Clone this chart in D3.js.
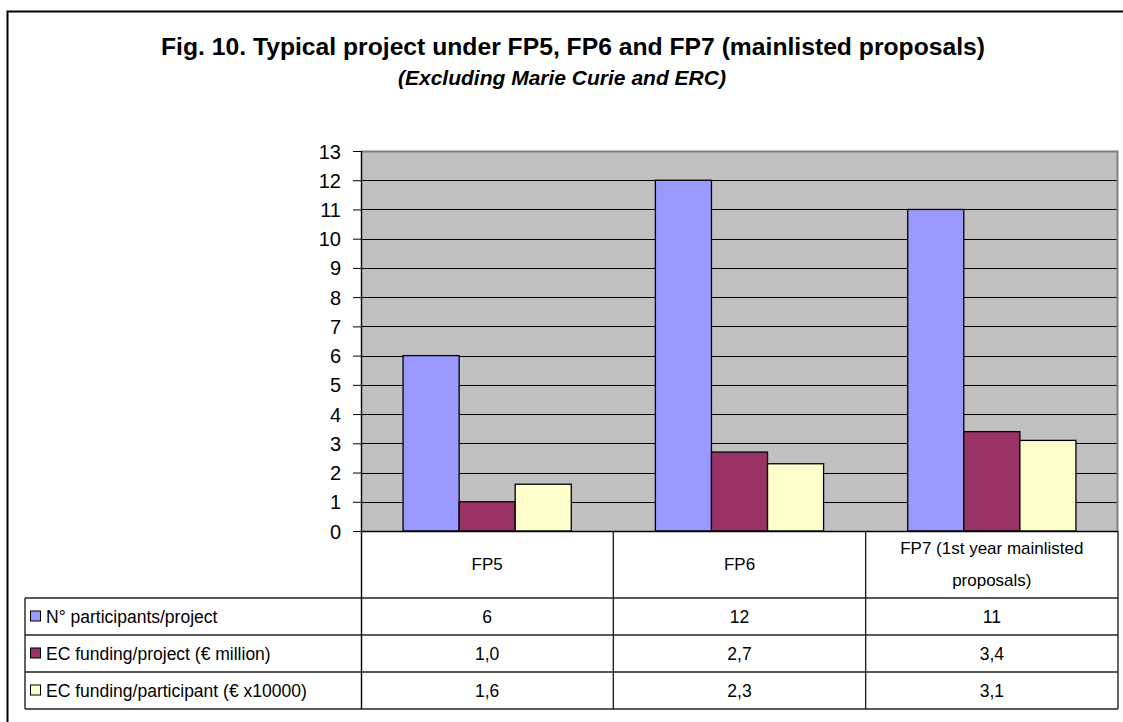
<!DOCTYPE html>
<html lang="en">
<head>
<meta charset="UTF-8">
<title>Fig. 10</title>
<script src="https://d3js.org/d3.v7.min.js"></script>
<style>
  body { margin: 0; background: #fff; }
  text { font-family: "Liberation Sans", Arial, sans-serif; fill: #000; }
</style>
</head>
<body>
<div id="chart"></div>
<script>
// data
var categories = ["FP5", "FP6", "FP7 (1st year mainlisted proposals)"];
var seriesNames = ["N° participants/project", "EC funding/project (€ million)", "EC funding/participant (€ x10000)"];
var participants = [6, 12, 11];
var fundingProject = [1.0, 2.7, 3.4];
var fundingParticipant = [1.6, 2.3, 3.1];
var yTicks = [0, 1, 2, 3, 4, 5, 6, 7, 8, 9, 10, 11, 12, 13];
var colors = ["#9999ff", "#993366", "#ffffcc"];

var series = [participants, fundingProject, fundingParticipant];

var W = 1123, H = 722;
var plot = {left: 361, right: 1118, top: 151, bottom: 531};
var table = {left: 25, headerBottom: 598, rowH: 37};

var svg = d3.select("#chart").append("svg")
  .attr("width", W).attr("height", H);

// outer frame (right and bottom edges fall outside the picture)
svg.append("rect")
  .attr("x", 7.5).attr("y", 11.5).attr("width", 1130).attr("height", 730)
  .attr("fill", "none").attr("stroke", "#000").attr("stroke-width", 2);

// titles
svg.append("text")
  .attr("x", 161).attr("y", 55)
  .style("font-size", "24.7px").style("font-weight", "bold")
  .text("Fig. 10. Typical project under FP5, FP6 and FP7 (mainlisted proposals)");
svg.append("text")
  .attr("x", 398).attr("y", 85)
  .style("font-size", "21px").style("font-weight", "bold").style("font-style", "italic")
  .text("(Excluding Marie Curie and ERC)");

// scales
var x = d3.scaleBand().domain(categories).range([plot.left, plot.right]);
var x1 = d3.scaleBand().domain(d3.range(series.length))
  .range([0, x.bandwidth()]).paddingOuter(0.75);
var y = d3.scaleLinear().domain([0, 13]).range([plot.bottom, plot.top]);

// plot area
svg.append("rect")
  .attr("x", plot.left).attr("y", plot.top)
  .attr("width", plot.right - plot.left).attr("height", plot.bottom - plot.top)
  .attr("fill", "#c0c0c0");

// gridlines
svg.append("g").selectAll("line")
  .data(yTicks.filter(function(d) { return d > 0 && d < 13; }))
  .enter().append("line")
    .attr("x1", plot.left).attr("x2", plot.right)
    .attr("y1", function(d) { return Math.round(y(d)) + 0.5; })
    .attr("y2", function(d) { return Math.round(y(d)) + 0.5; })
    .attr("stroke", "#000").attr("stroke-width", 1);

// plot border (top / right)
svg.append("path")
  .attr("d", "M" + plot.left + "," + (plot.top + 0.5) + "H" + (plot.right - 0.5) + "V" + plot.bottom)
  .attr("fill", "none").attr("stroke", "#808080").attr("stroke-width", 2);

// bars
series.forEach(function(vals, si) {
  svg.append("g").selectAll("rect")
    .data(vals)
    .enter().append("rect")
      .attr("x", function(d, i) { return x(categories[i]) + x1(si); })
      .attr("y", function(d) { return y(d); })
      .attr("width", x1.bandwidth())
      .attr("height", function(d) { return y(0) - y(d); })
      .attr("fill", colors[si])
      .attr("stroke", "#000").attr("stroke-width", 1.3);
});

// y axis
var yAxis = svg.append("g")
  .attr("transform", "translate(" + plot.left + ",0)")
  .call(d3.axisLeft(y).tickValues(yTicks).tickSize(8).tickPadding(12).tickFormat(d3.format("d")));
yAxis.select(".domain").remove();
yAxis.selectAll(".tick line").attr("stroke", "#000");
yAxis.selectAll(".tick text")
  .style("font-size", "20px").style("font-family", "'Liberation Sans', Arial, sans-serif")
  .attr("dy", "0.35em");

// data table
var nRows = series.length;
var tableBottom = table.headerBottom + nRows * table.rowH;
var lineColor = "#222";
var tg = svg.append("g");

// horizontal lines
tg.append("line")
  .attr("x1", plot.left).attr("x2", plot.right)
  .attr("y1", plot.bottom + 0.5).attr("y2", plot.bottom + 0.5)
  .attr("stroke", "#000").attr("stroke-width", 1.5);
d3.range(nRows + 1).forEach(function(r) {
  var yy = table.headerBottom + r * table.rowH;
  tg.append("line")
    .attr("x1", table.left).attr("x2", plot.right)
    .attr("y1", yy).attr("y2", yy)
    .attr("stroke", lineColor).attr("stroke-width", 1.4);
});
// vertical lines
tg.append("line")
  .attr("x1", table.left).attr("x2", table.left)
  .attr("y1", table.headerBottom).attr("y2", tableBottom)
  .attr("stroke", lineColor).attr("stroke-width", 1.4);
tg.append("line")
  .attr("x1", plot.left + 0.5).attr("x2", plot.left + 0.5)
  .attr("y1", plot.top).attr("y2", tableBottom)
  .attr("stroke", "#000").attr("stroke-width", 1.4);
categories.forEach(function(c) {
  var xx = x(c) + x.bandwidth();
  tg.append("line")
    .attr("x1", xx).attr("x2", xx)
    .attr("y1", plot.bottom).attr("y2", tableBottom)
    .attr("stroke", lineColor).attr("stroke-width", 1.4);
});

// header: category names, wrapped to column width
categories.forEach(function(c) {
  var t = tg.append("text")
    .attr("text-anchor", "middle")
    .style("font-size", "17px");
  var words = c.split(" "), lines = [], line = [];
  var probe = tg.append("text").style("font-size", "17px");
  words.forEach(function(w) {
    line.push(w);
    probe.text(line.join(" "));
    if (probe.node().getComputedTextLength() > x.bandwidth() - 20 && line.length > 1) {
      line.pop();
      lines.push(line.join(" "));
      line = [w];
    }
  });
  lines.push(line.join(" "));
  probe.remove();
  var cy = (plot.bottom + table.headerBottom) / 2;
  var lh = 32;
  lines.forEach(function(l, i) {
    t.append("tspan")
      .attr("x", x(c) + x.bandwidth() / 2)
      .attr("y", cy + (i - (lines.length - 1) / 2) * lh)
      .attr("dy", "0.35em")
      .text(l);
  });
});

// rows: legend key + label + values
var fmtInt = d3.format("d");
var fmtDec = d3.formatLocale({decimal: ",", thousands: ".", grouping: [3], currency: ["€", ""]}).format(".1f");
series.forEach(function(vals, si) {
  var cy = table.headerBottom + si * table.rowH + table.rowH / 2;
  tg.append("rect")
    .attr("x", 30.5).attr("y", cy - 5.5)
    .attr("width", 10).attr("height", 10)
    .attr("fill", colors[si]).attr("stroke", "#000").attr("stroke-width", 1);
  tg.append("text")
    .attr("x", 46).attr("y", cy).attr("dy", "0.35em")
    .style("font-size", "17.5px")
    .text(seriesNames[si]);
  tg.selectAll(null)
    .data(vals)
    .enter().append("text")
      .attr("x", function(d, i) { return x(categories[i]) + x.bandwidth() / 2; })
      .attr("y", cy).attr("dy", "0.35em")
      .attr("text-anchor", "middle")
      .style("font-size", "17.5px")
      .text(function(d) { return si === 0 ? fmtInt(d) : fmtDec(d); });
});
</script>
</body>
</html>
